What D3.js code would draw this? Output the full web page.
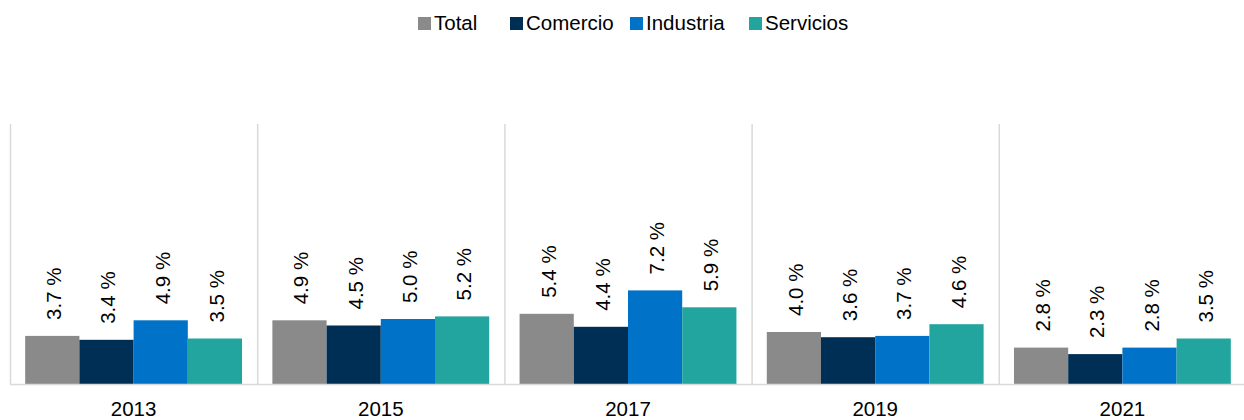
<!DOCTYPE html>
<html>
<head>
  <meta charset="utf-8">
  <title>Tasas por sector</title>
  <style>
    body { margin: 0; background: #fff; }
    svg text { font-family: "Liberation Sans", Arial, sans-serif; fill: #000; }
  </style>
</head>
<body>
  <svg id="chart" width="1244" height="420"></svg>

  <script src="https://d3js.org/d3.v7.min.js"></script>
  <script>
    // datos
    const years = ["2013", "2015", "2017", "2019", "2021"];
    const series = ["Total", "Comercio", "Industria", "Servicios"];
    const colors = ["#8a8a8a", "#002f56", "#0073c8", "#22a59f"];
    const total = [3.7, 4.9, 5.4, 4.0, 2.8];
    const comercio = [3.4, 4.5, 4.4, 3.6, 2.3];
    const industria = [4.9, 5.0, 7.2, 3.7, 2.8];
    const servicios = [3.5, 5.2, 5.9, 4.6, 3.5];
    const values = [total, comercio, industria, servicios];

    const svg = d3.select("#chart");
    const plotTop = 124, base = 384, left = 10, groupW = 247.2;

    const x0 = d3.scaleBand()
      .domain(years)
      .range([left, left + groupW * years.length]);

    const x1 = d3.scaleBand()
      .domain(series)
      .range([0, groupW])
      .paddingOuter(0.28);

    const y = d3.scaleLinear()
      .domain([0, 20])
      .range([base, plotTop]);

    // separadores verticales
    svg.append("g").selectAll("line")
      .data(years)
      .join("line")
      .attr("x1", d => x0(d) + 0.5)
      .attr("x2", d => x0(d) + 0.5)
      .attr("y1", plotTop)
      .attr("y2", base)
      .attr("stroke", "#d9d9d9")
      .attr("stroke-width", 1.5);

    const groups = svg.append("g").selectAll("g")
      .data(years)
      .join("g")
      .attr("transform", d => `translate(${x0(d)},0)`);

    const cells = groups.selectAll("g")
      .data((yr, i) => series.map((s, j) => ({ s, j, v: values[j][i] })))
      .join("g");

    cells.append("rect")
      .attr("x", d => x1(d.s))
      .attr("width", x1.bandwidth())
      .attr("y", d => y(d.v))
      .attr("height", d => y(0) - y(d.v))
      .attr("fill", d => colors[d.j]);

    cells.append("text")
      .attr("transform", d => `translate(${x1(d.s) + x1.bandwidth() / 2 + 9},${y(d.v) - 16}) rotate(-90)`)
      .attr("text-anchor", "start")
      .style("font-size", "20.5px")
      .text(d => d.v.toFixed(1) + " %");

    // eje base
    svg.append("line")
      .attr("x1", left)
      .attr("x2", 1244)
      .attr("y1", base + 0.5)
      .attr("y2", base + 0.5)
      .attr("stroke", "#d9d9d9")
      .attr("stroke-width", 1.5);

    svg.append("g").selectAll("text")
      .data(years)
      .join("text")
      .attr("x", d => x0(d) + groupW / 2)
      .attr("y", 416)
      .attr("text-anchor", "middle")
      .style("font-size", "20.5px")
      .text(d => d);

    // leyenda
    const legendX = [418, 510, 630, 749];
    const legend = svg.append("g").selectAll("g")
      .data(series)
      .join("g")
      .attr("transform", (d, i) => `translate(${legendX[i]},0)`);

    legend.append("rect")
      .attr("x", 0)
      .attr("y", 17)
      .attr("width", 13)
      .attr("height", 13)
      .attr("fill", (d, i) => colors[i]);

    legend.append("text")
      .attr("x", 16)
      .attr("y", 30)
      .style("font-size", "20.5px")
      .text(d => d);
  </script>
</body>
</html>
